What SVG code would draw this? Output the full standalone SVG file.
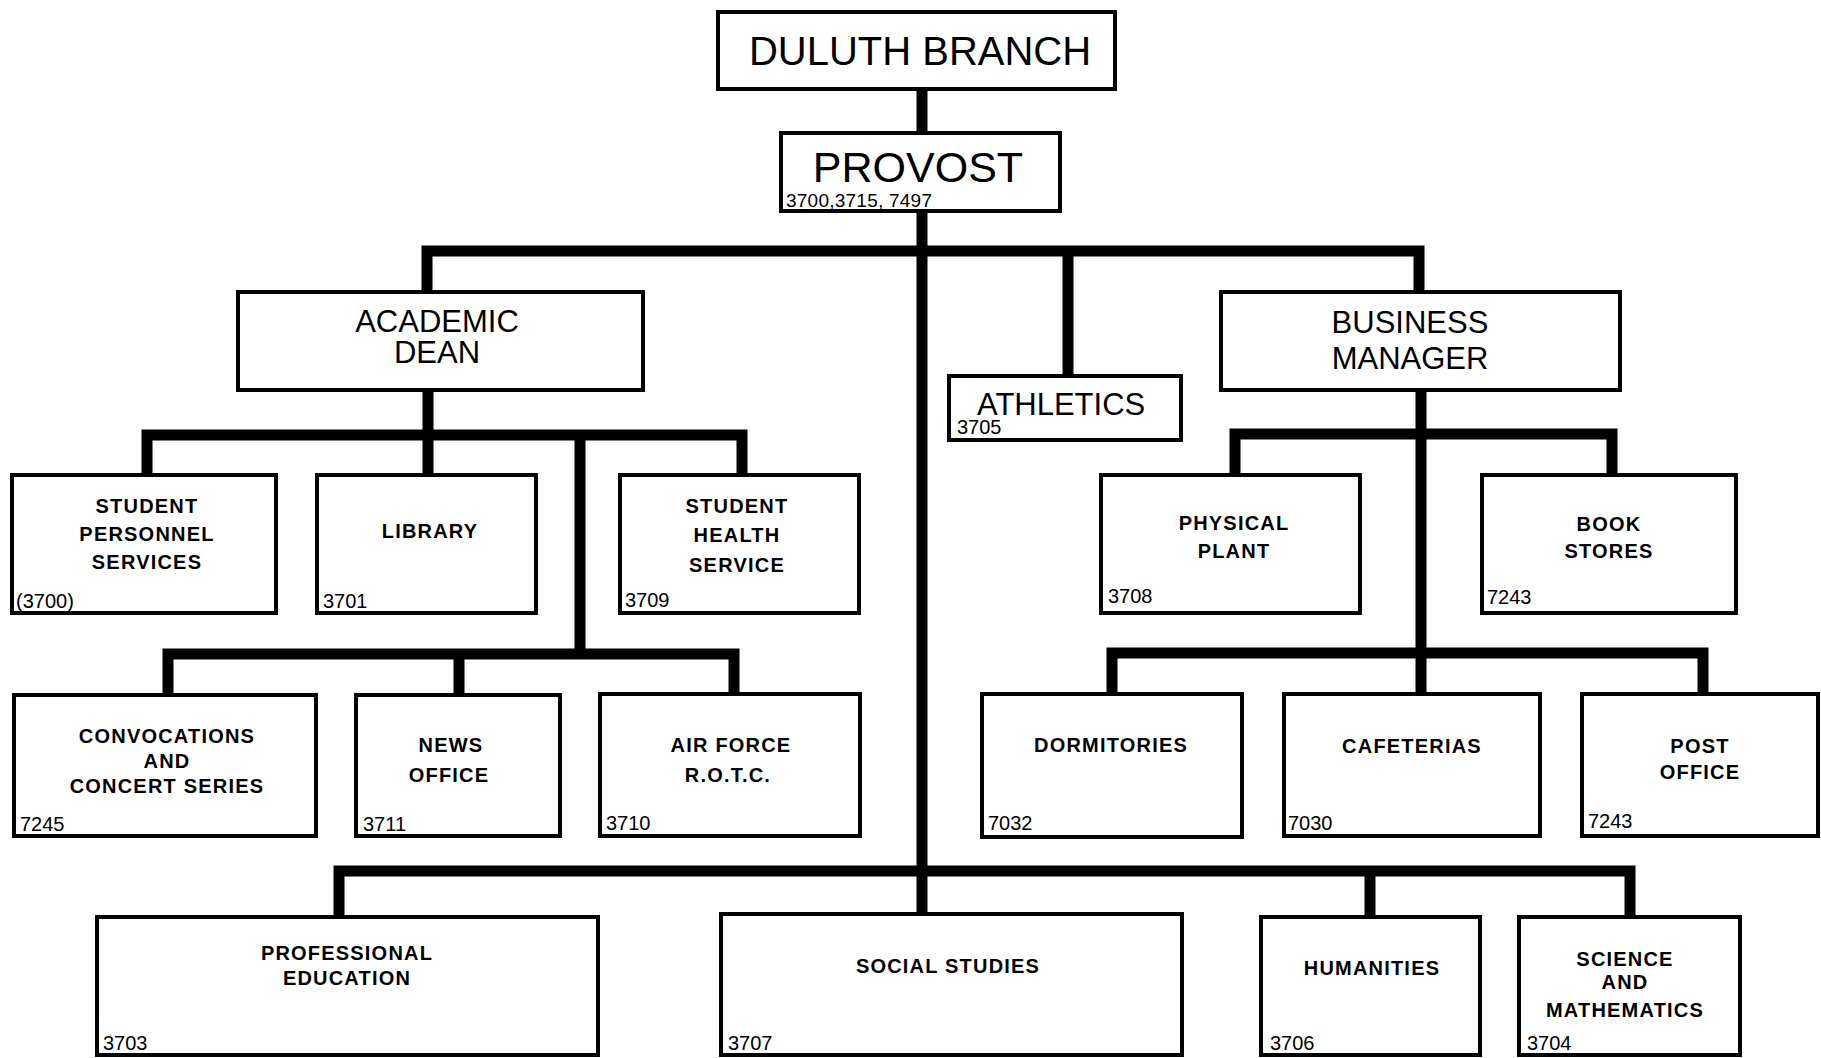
<svg xmlns="http://www.w3.org/2000/svg" width="1821" height="1058" viewBox="0 0 1821 1058">
<style>
.box{fill:#fff;stroke:#000;stroke-width:4}
.conn{fill:none;stroke:#000;stroke-width:11;stroke-linejoin:miter;stroke-linecap:butt}
text{font-family:"Liberation Sans",Arial,sans-serif;fill:#000}
.big{font-size:31px;text-anchor:middle}
.lbl{font-size:20px;font-weight:bold;letter-spacing:1.2px;text-anchor:middle}
.num{font-size:20px}
</style>
<rect x="0" y="0" width="1821" height="1058" fill="#fff"/>
<g id="connectors">
<path class="conn" d="M922,91 V131"/>
<path class="conn" d="M922,213 V913"/>
<path class="conn" d="M427,290 V251 H1419 V290"/>
<path class="conn" d="M1068,251 V374"/>
<path class="conn" d="M428,392 V473"/>
<path class="conn" d="M147,473 V435 H742 V473"/>
<path class="conn" d="M580,435 V654"/>
<path class="conn" d="M168,693 V654 H734 V692"/>
<path class="conn" d="M459,654 V693"/>
<path class="conn" d="M1421,392 V692"/>
<path class="conn" d="M1235,473 V434 H1612 V473"/>
<path class="conn" d="M1112,692 V653 H1703 V692"/>
<path class="conn" d="M339,915 V871 H1630 V915"/>
<path class="conn" d="M1370,871 V915"/>
</g>
<g id="duluth-branch">
<rect class="box" x="718" y="12" width="397" height="77"/>
<text x="920" y="65" text-anchor="middle" font-size="40">DULUTH BRANCH</text>
</g>
<g id="provost">
<rect class="box" x="781" y="133" width="279" height="78"/>
<text x="918" y="182" text-anchor="middle" font-size="43">PROVOST</text>
<text x="786" y="207" font-size="19" textLength="146">3700,3715, 7497</text>
</g>
<g id="academic-dean">
<rect class="box" x="238" y="292" width="405" height="98"/>
<text class="big" x="437" y="332">ACADEMIC</text>
<text class="big" x="437" y="363">DEAN</text>
</g>
<g id="athletics">
<rect class="box" x="949" y="376" width="232" height="64"/>
<text x="977" y="415" font-size="31">ATHLETICS</text>
<text class="num" x="957" y="434">3705</text>
</g>
<g id="business-manager">
<rect class="box" x="1221" y="292" width="399" height="98"/>
<text class="big" x="1410" y="333">BUSINESS</text>
<text class="big" x="1410" y="369">MANAGER</text>
</g>
<g id="student-personnel-services">
<rect class="box" x="12" y="475" width="264" height="138"/>
<text class="lbl" x="147" y="513">STUDENT</text>
<text class="lbl" x="147" y="541">PERSONNEL</text>
<text class="lbl" x="147" y="569">SERVICES</text>
<text class="num" x="16" y="608">(3700)</text>
</g>
<g id="library">
<rect class="box" x="317" y="475" width="219" height="138"/>
<text class="lbl" x="430" y="538">LIBRARY</text>
<text class="num" x="323" y="608">3701</text>
</g>
<g id="student-health-service">
<rect class="box" x="620" y="475" width="239" height="138"/>
<text class="lbl" x="737" y="513">STUDENT</text>
<text class="lbl" x="737" y="542">HEALTH</text>
<text class="lbl" x="737" y="572">SERVICE</text>
<text class="num" x="625" y="607">3709</text>
</g>
<g id="physical-plant">
<rect class="box" x="1101" y="475" width="259" height="138"/>
<text class="lbl" x="1234" y="530">PHYSICAL</text>
<text class="lbl" x="1234" y="558">PLANT</text>
<text class="num" x="1108" y="603">3708</text>
</g>
<g id="book-stores">
<rect class="box" x="1482" y="475" width="254" height="138"/>
<text class="lbl" x="1609" y="531">BOOK</text>
<text class="lbl" x="1609" y="558">STORES</text>
<text class="num" x="1487" y="604">7243</text>
</g>
<g id="convocations">
<rect class="box" x="14" y="695" width="302" height="141"/>
<text class="lbl" x="167" y="743">CONVOCATIONS</text>
<text class="lbl" x="167" y="768">AND</text>
<text class="lbl" x="167" y="793">CONCERT SERIES</text>
<text class="num" x="20" y="831">7245</text>
</g>
<g id="news-office">
<rect class="box" x="356" y="695" width="204" height="141"/>
<text class="lbl" x="451" y="752">NEWS</text>
<text class="lbl" x="449" y="782">OFFICE</text>
<text class="num" x="363" y="831">3711</text>
</g>
<g id="air-force-rotc">
<rect class="box" x="600" y="694" width="260" height="142"/>
<text class="lbl" x="731" y="752">AIR  FORCE</text>
<text class="lbl" x="728" y="782">R.O.T.C.</text>
<text class="num" x="606" y="830">3710</text>
</g>
<g id="dormitories">
<rect class="box" x="982" y="694" width="260" height="143"/>
<text class="lbl" x="1111" y="752">DORMITORIES</text>
<text class="num" x="988" y="830">7032</text>
</g>
<g id="cafeterias">
<rect class="box" x="1284" y="694" width="256" height="142"/>
<text class="lbl" x="1412" y="753">CAFETERIAS</text>
<text class="num" x="1288" y="830">7030</text>
</g>
<g id="post-office">
<rect class="box" x="1582" y="694" width="236" height="142"/>
<text class="lbl" x="1700" y="753">POST</text>
<text class="lbl" x="1700" y="779">OFFICE</text>
<text class="num" x="1588" y="828">7243</text>
</g>
<g id="professional-education">
<rect class="box" x="97" y="917" width="501" height="138"/>
<text class="lbl" x="347" y="960">PROFESSIONAL</text>
<text class="lbl" x="347" y="985">EDUCATION</text>
<text class="num" x="103" y="1050">3703</text>
</g>
<g id="social-studies">
<rect class="box" x="721" y="914" width="461" height="141"/>
<text class="lbl" x="948" y="973">SOCIAL  STUDIES</text>
<text class="num" x="728" y="1050">3707</text>
</g>
<g id="humanities">
<rect class="box" x="1261" y="917" width="219" height="138"/>
<text class="lbl" x="1372" y="975">HUMANITIES</text>
<text class="num" x="1270" y="1050">3706</text>
</g>
<g id="science-and-mathematics">
<rect class="box" x="1519" y="917" width="221" height="138"/>
<text class="lbl" x="1625" y="966">SCIENCE</text>
<text class="lbl" x="1625" y="989">AND</text>
<text class="lbl" x="1625" y="1017">MATHEMATICS</text>
<text class="num" x="1527" y="1050">3704</text>
</g>
</svg>
